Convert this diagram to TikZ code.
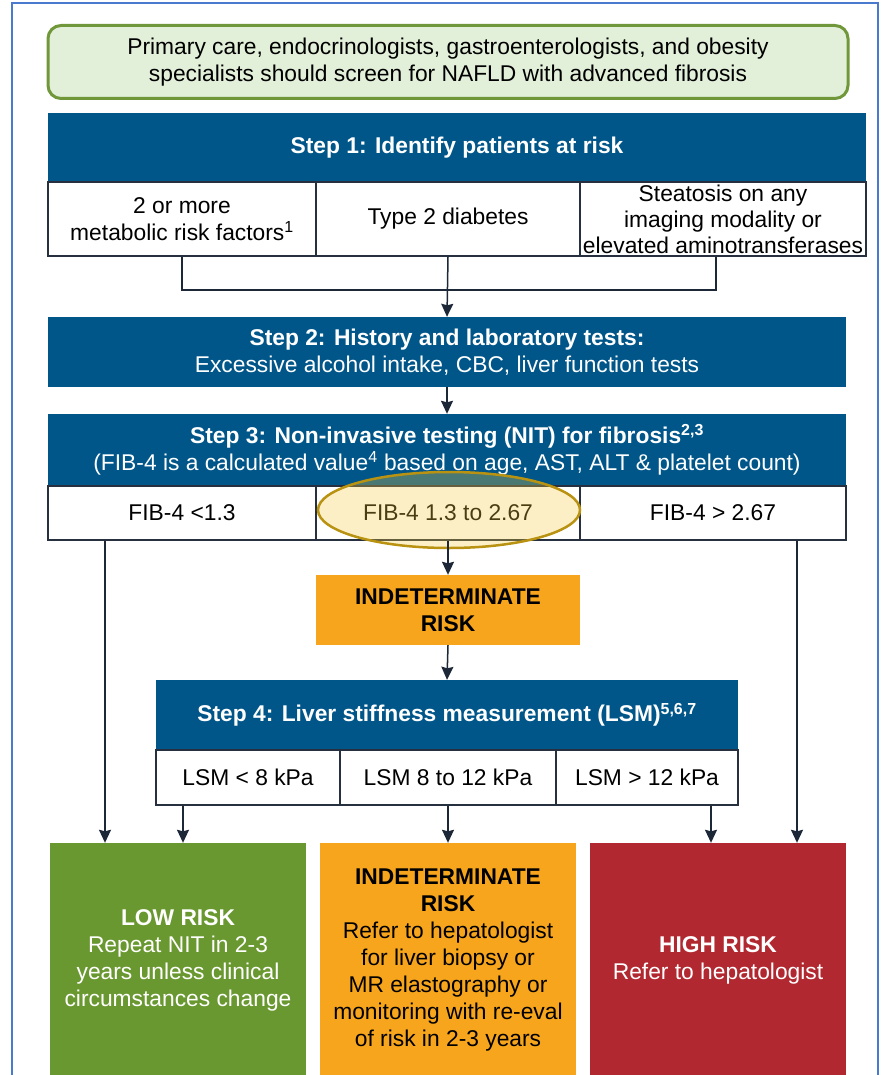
\documentclass[tikz,border=0pt]{standalone}
\usepackage{fontspec}
\setmainfont{Liberation Sans}
\usetikzlibrary{arrows.meta,shapes.geometric}
\newlength{\du}
\setlength{\du}{1pt}
\newcommand{\flowfont}{\fontsize{22.8}{27}\selectfont}
\definecolor{frameblue}{RGB}{74,122,206}
\definecolor{bannerfill}{RGB}{226,239,217}
\definecolor{bannerline}{RGB}{112,152,58}
\definecolor{stepblue}{RGB}{0,86,137}
\definecolor{cellline}{RGB}{38,48,62}
\definecolor{linkline}{RGB}{28,40,56}
\definecolor{lowgreen}{RGB}{106,152,48}
\definecolor{midorange}{RGB}{246,165,28}
\definecolor{highred}{RGB}{177,40,48}
\definecolor{hilitefill}{RGB}{248,205,65}
\definecolor{hiliteline}{RGB}{184,146,16}
\tikzset{
  box/.style={inner sep=0pt, align=center, font=\flowfont},
  banner/.style={box, draw=bannerline, fill=bannerfill, line width=3pt, rounded corners=13pt,
    minimum width=800\du, minimum height=73\du},
  stepbar/.style={box, fill=stepblue, text=white, font=\flowfont\bfseries, minimum height=70\du},
  cellbox/.style={box, draw=cellline, fill=white, line width=1.3pt},
  outcome/.style={box, minimum width=256\du, minimum height=234\du},
  link/.style={draw=linkline, line width=1.5pt},
  arr/.style={link, -{Stealth[length=13pt,width=12pt,inset=1.5pt]}}
}
\begin{document}
\begin{tikzpicture}
\pgftransformyscale{-1.000000}
\clip (0\du,0\du) rectangle (884\du,1075\du);
\draw[frameblue, line width=1.5pt] (12\du,3\du) rectangle (878\du,1090\du);
% banner
\node[banner] (screen) at (448\du,62\du)
  {Primary care, endocrinologists, gastroenterologists, and obesity\\specialists should screen for NAFLD with advanced fibrosis};
% step 1
\node[stepbar, minimum width=818\du] (step1) at (457\du,148\du) {Step 1: Identify patients at risk};
\node[cellbox, minimum width=268\du, minimum height=74\du] (risk1) at (182\du,219\du)
  {2 or more\\metabolic risk factors\textsuperscript{1}};
\node[cellbox, minimum width=264\du, minimum height=74\du] (risk2) at (448\du,219\du) {Type 2 diabetes};
\node[cellbox, minimum width=286\du, minimum height=74\du, font=\fontsize{22.8}{26}\selectfont] (risk3) at (723\du,219\du)
  {Steatosis on any\\imaging modality or\\elevated aminotransferases};
% step 2
\node[stepbar, minimum width=798\du] (step2) at (447\du,352\du)
  {Step 2: History and laboratory tests:\\\mdseries Excessive alcohol intake, CBC, liver function tests};
% step 3
\node[stepbar, minimum width=798\du, minimum height=72\du] (step3) at (447\du,450\du)
  {Step 3: Non-invasive testing (NIT) for fibrosis\textsuperscript{2,3}\\\mdseries (FIB-4 is a calculated value\textsuperscript{4} based on age, AST, ALT \& platelet count)};
\node[cellbox, minimum width=268\du, minimum height=54\du] (fiblow) at (182\du,513\du) {FIB-4 <1.3};
\node[cellbox, minimum width=264\du, minimum height=54\du] (fibmid) at (448\du,513\du) {FIB-4 1.3 to 2.67};
\node[cellbox, minimum width=266\du, minimum height=54\du] (fibhigh) at (713\du,513\du) {FIB-4 > 2.67};
\node[ellipse, draw=hiliteline, line width=2.5pt, fill=hilitefill, fill opacity=0.3, draw opacity=1,
  minimum width=262\du, minimum height=76\du, inner sep=0pt] (hilite) at (449\du,510\du) {};
% indeterminate
\node[box, fill=midorange, font=\flowfont\bfseries, minimum width=264\du, minimum height=70\du] (indet) at (448\du,610\du)
  {INDETERMINATE\\RISK};
% step 4
\node[stepbar, minimum width=582\du] (step4) at (447\du,715\du)
  {Step 4: Liver stiffness measurement (LSM)\textsuperscript{5,6,7}};
\node[cellbox, minimum width=184\du, minimum height=55\du] (lsmlow) at (248\du,777.5\du) {LSM < 8 kPa};
\node[cellbox, minimum width=216\du, minimum height=55\du] (lsmmid) at (448\du,777.5\du) {LSM 8 to 12 kPa};
\node[cellbox, minimum width=182\du, minimum height=55\du] (lsmhigh) at (647\du,777.5\du) {LSM > 12 kPa};
% outcomes
\node[outcome, fill=lowgreen, text=white] (lowrisk) at (178\du,960\du)
  {\bfseries LOW RISK\\Repeat NIT in 2-3\\years unless clinical\\circumstances change};
\node[outcome, fill=midorange] (midrisk) at (448\du,960\du)
  {\bfseries INDETERMINATE\\\bfseries RISK\\Refer to hepatologist\\for liver biopsy or\\MR elastography or\\monitoring with re-eval\\of risk in 2-3 years};
\node[outcome, fill=highred, text=white] (highrisk) at (718\du,960\du)
  {\bfseries HIGH RISK\\Refer to hepatologist};
% connectors
\coordinate (join) at (449\du,290\du);
\coordinate (risk3out) at ([xshift=-7\du]risk3.south);
\draw[link] (risk1.south) |- (join) -| (risk3out);
\draw[arr] (risk2.south) -- (step2.north);
\draw[arr] (step2.south) -- (step3.north);
\draw[arr] (fibmid.south) -- (indet.north);
\draw[arr] (indet.south) -- (step4.north);
\coordinate (lowin) at ([xshift=-77\du]fiblow.south);
\coordinate (highin) at ([xshift=84\du]fibhigh.south);
\coordinate (lsmlowout) at ([xshift=-65\du]lsmlow.south);
\coordinate (lsmhighout) at ([xshift=64\du]lsmhigh.south);
\draw[arr] (lowin) -- (lowin |- lowrisk.north);
\draw[arr] (highin) -- (highin |- highrisk.north);
\draw[arr] (lsmlowout) -- (lsmlowout |- lowrisk.north);
\draw[arr] (lsmmid.south) -- (midrisk.north);
\draw[arr] (lsmhighout) -- (lsmhighout |- highrisk.north);
\end{tikzpicture}
\end{document}
